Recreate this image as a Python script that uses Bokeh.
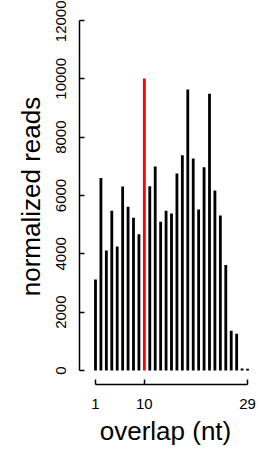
from bokeh.plotting import figure
from bokeh.models import FixedTicker, ColumnDataSource, Range1d
from bokeh.embed import file_html
from bokeh.resources import INLINE

overlap = list(range(1, 30))
reads = [3120, 6600, 4110, 5480, 4250, 6310, 5610, 5240, 4670, 10010,
         6320, 6990, 5100, 5480, 5380, 6750, 7380, 9630, 7270, 5520,
         6970, 9490, 6170, 5310, 3620, 1360, 1260, 70, 60]
highlight = 10
colors = ["#FF0000" if o == highlight else "#000000" for o in overlap]
y_ticks = [0, 2000, 4000, 6000, 8000, 10000, 12000]
x_ticks = [1, 10, 29]

src = ColumnDataSource(dict(x=overlap, top=reads, color=colors))

p = figure(width=263, height=449, output_backend="svg", toolbar_location=None,
           x_range=Range1d(-1.947, 29.737), y_range=Range1d(-480, 12411),
           min_border_left=79, min_border_right=12, min_border_top=8,
           min_border_bottom=65)
p.outline_line_color = None
p.xgrid.grid_line_color = None
p.ygrid.grid_line_color = None

p.vbar(x="x", top="top", bottom=0, width=0.52, fill_color="color",
       line_color=None, source=src)

font = "Liberation Sans"
for ax in (p.xaxis[0], p.yaxis[0]):
    ax.axis_line_width = 1.5
    ax.major_tick_line_width = 1.5
    ax.major_tick_in = 5
    ax.major_tick_out = 0
    ax.minor_tick_in = 0
    ax.minor_tick_out = 0
    ax.major_label_text_font = font
    ax.major_label_text_font_size = "15px"
    ax.major_label_text_color = "#000000"
    ax.axis_label_text_font = font
    ax.axis_label_text_font_size = "26px"
    ax.axis_label_text_font_style = "normal"
    ax.axis_label_text_color = "#000000"
    ax.axis_line_color = "#000000"
    ax.major_tick_line_color = "#000000"

p.yaxis[0].ticker = FixedTicker(ticks=y_ticks)
p.yaxis[0].bounds = (0, 12000)
p.yaxis[0].major_label_orientation = "vertical"
p.yaxis[0].major_label_standoff = 13
p.yaxis[0].axis_label = "normalized reads"
p.yaxis[0].axis_label_standoff = 8

p.xaxis[0].ticker = FixedTicker(ticks=x_ticks)
p.xaxis[0].bounds = (1, 29)
p.xaxis[0].major_label_standoff = 14
p.xaxis[0].axis_label = "overlap (nt)"
p.xaxis[0].axis_label_standoff = 4

open("out.html", "w").write(file_html(p, INLINE))
